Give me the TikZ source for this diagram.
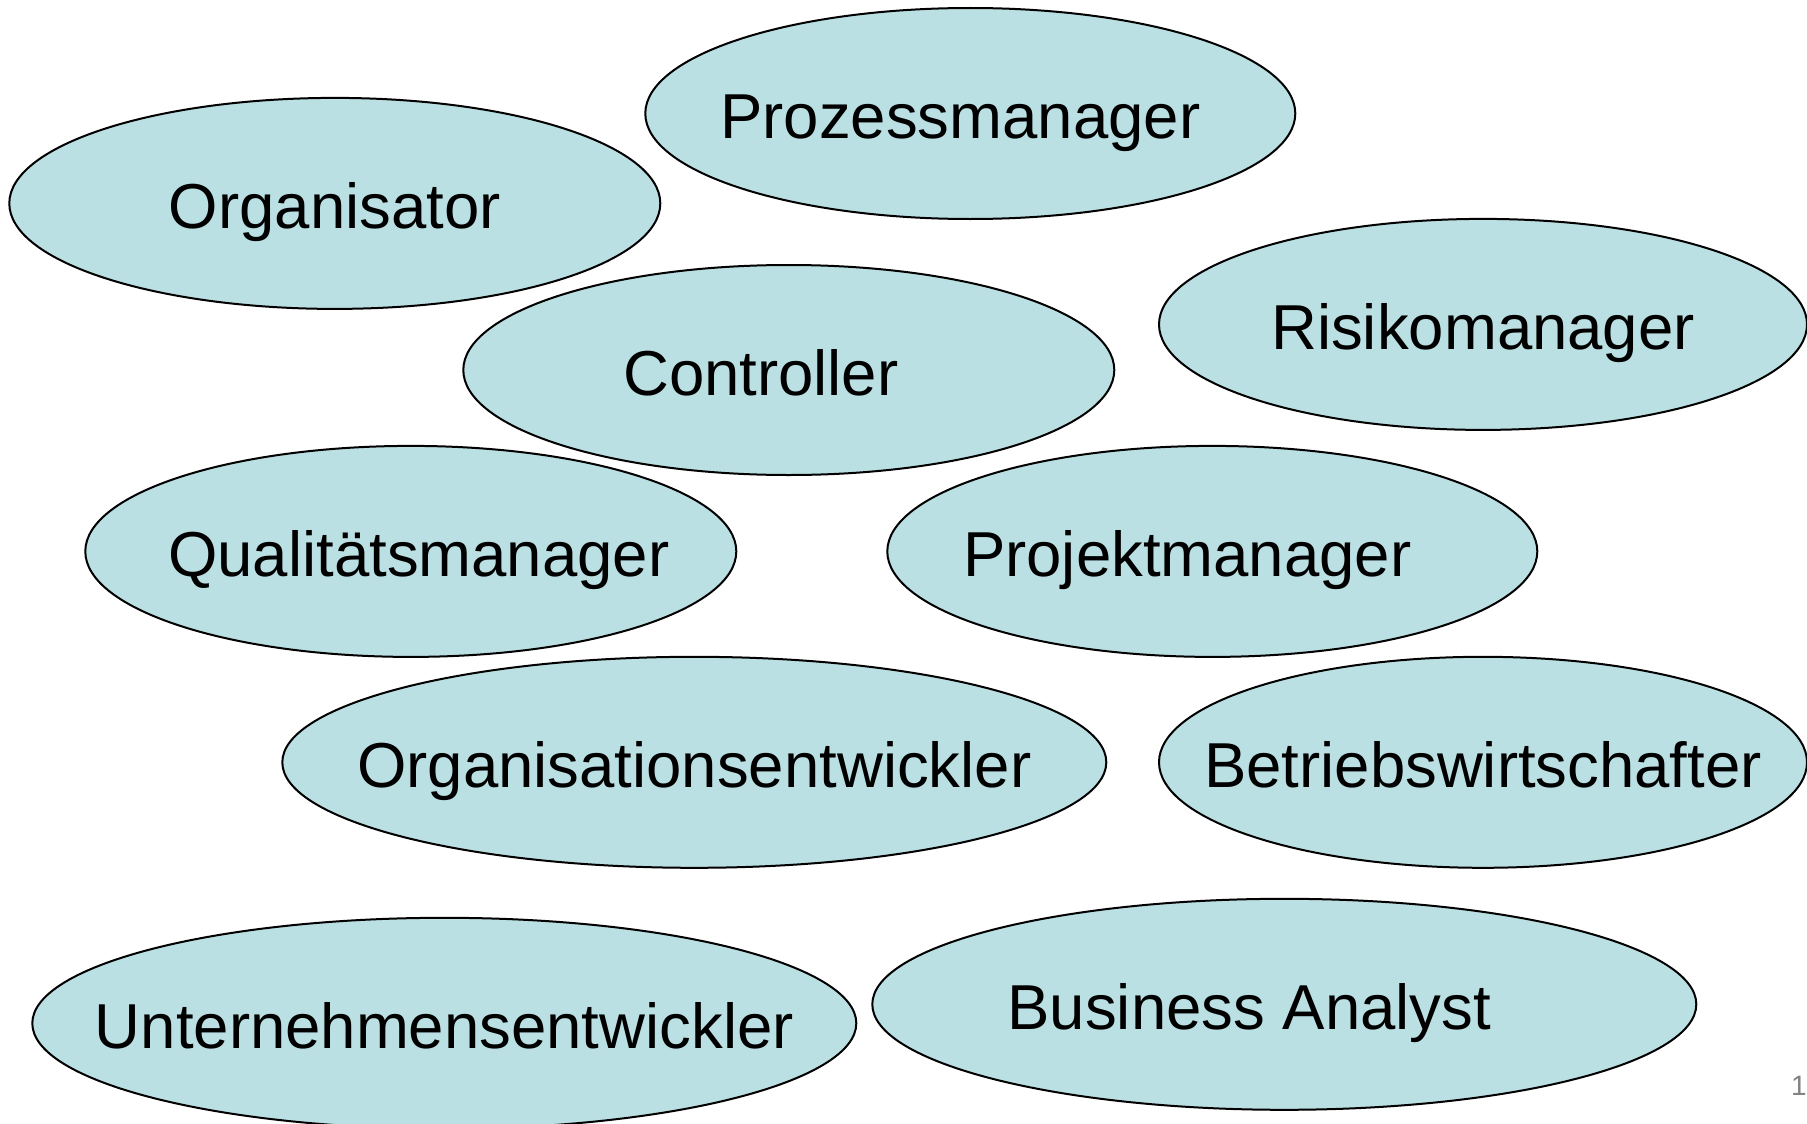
\documentclass[tikz,border=0pt]{standalone}
\usepackage{fontspec}
\setmainfont{Liberation Sans}
\usetikzlibrary{shapes.geometric}
\definecolor{ellfill}{RGB}{187,224,227}
\definecolor{pagegray}{RGB}{130,130,130}
\begin{document}
\begin{tikzpicture}[x=1pt,y=-1pt,
  ell/.style={ellipse, draw=black, fill=ellfill, line width=2pt, inner sep=0pt},
  lbl/.style={font=\fontsize{63.5}{70}\selectfont, text height=57pt, text depth=6.4pt, inner sep=0pt}]
\useasboundingbox (0,0) rectangle (1807,1124);
\fill[white] (0,0) rectangle (1807,1124);
% ellipses
\node[ell, minimum width=651pt, minimum height=211pt] (e1) at (334.8,203.4) {};
\node[ell, minimum width=650pt, minimum height=211pt] (e2) at (970.3,113.5) {};
\node[ell, minimum width=648pt, minimum height=211pt] (e3) at (1483,324.4) {};
\node[ell, minimum width=651pt, minimum height=210pt] (e4) at (788.8,370) {};
\node[ell, minimum width=651pt, minimum height=211pt] (e5) at (410.8,551.4) {};
\node[ell, minimum width=650pt, minimum height=211pt] (e6) at (1212.3,551.4) {};
\node[ell, minimum width=824pt, minimum height=211pt] (e7) at (694.3,762.3) {};
\node[ell, minimum width=648pt, minimum height=211pt] (e8) at (1483,762.3) {};
\node[ell, minimum width=824pt, minimum height=211pt] (e9) at (444.3,1023.3) {};
\node[ell, minimum width=824pt, minimum height=211pt] (e10) at (1284.3,1004.3) {};
% labels
\node[lbl] (t1) at (e1.center) {Organisator};
\node[lbl] (t2) at ([xshift=-10pt]e2.center) {Prozessmanager};
\node[lbl] (t3) at (e3.center) {Risikomanager};
\node[lbl] (t4) at ([xshift=-28pt]e4.center) {Controller};
\node[lbl] (t5) at ([xshift=8pt]e5.center) {Qualitätsmanager};
\node[lbl] (t6) at ([xshift=-25pt]e6.center) {Projektmanager};
\node[lbl] (t7) at (e7.center) {Organisationsentwickler};
\node[lbl] (t8) at (e8.center) {Betriebswirtschafter};
\node[lbl] (t9) at (e9.center) {Unternehmensentwickler};
\node[lbl] (t10) at ([xshift=-35pt]e10.center) {Business Analyst};
% page number
\node[anchor=base west, inner sep=0pt, text=pagegray, font=\fontsize{28}{30}\selectfont] (pg) at (1791,1095) {1};
\end{tikzpicture}
\end{document}
